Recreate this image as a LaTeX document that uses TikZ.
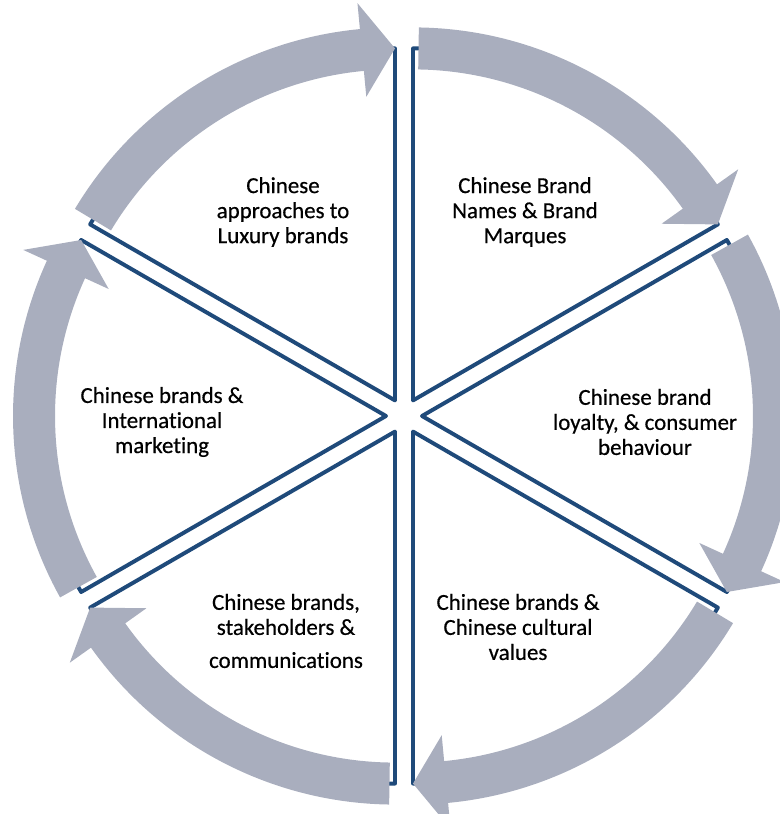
\documentclass[tikz,border=0pt]{standalone}
\usepackage{fontspec}
\setmainfont{Carlito}[FakeBold=0.5, Ligatures=NoCommon]
\usepackage{tikz}
\usetikzlibrary{positioning}
\definecolor{ringgrey}{HTML}{A9AEBE}
\definecolor{spoke}{HTML}{1F4A7A}
\tikzset{
    sector/.style={draw=spoke, line width=2.8pt, line join=round},
    cyclearrow/.style={fill=ringgrey, draw=none},
    topic/.style={align=center, inner sep=0pt, text=black, font=\fontsize{16.3pt}{17.8pt}\selectfont}
}
% ring radius, shaft and head radii (picture units = px)
\def\R{352}
\def\Ri{331}
\def\Ro{373}
\def\Hi{305}
\def\Ho{399}

\begin{document}
\begin{tikzpicture}[x=0.025cm, y=0.025cm]
\useasboundingbox (0,0) rectangle (780,814);

\begin{scope}[shift={(404,398)}]
% six slices, each pushed out along its bisector
\foreach \b in {120,60,0,-60,-120,180} {
    \begin{scope}[shift={(\b:18)}]
        \draw[sector] (0,0) -- (\b+30:\R) arc[start angle=\b+30, end angle=\b-30, radius=\R] -- cycle;
    \end{scope}
}
% curved arrows running clockwise over the slice rims
\foreach \b [evaluate=\b as \ts using \b+30-0.9,
             evaluate=\b as \te using \b-30,
             evaluate=\b as \tb using \b-30+5.4] in {120,60,0,-60,-120,180} {
    \begin{scope}[shift={(\b:18)}]
        \fill[cyclearrow] (\ts:\Ri) arc[start angle=\ts, end angle=\tb, radius=\Ri]
            -- (\tb:\Hi) -- (\te:\R) -- (\tb:\Ho) -- (\tb:\Ro)
            arc[start angle=\tb, end angle=\ts, radius=\Ro] -- cycle;
    \end{scope}
}
\end{scope}

\node[topic] (luxury) at (283,602) {Chinese\\approaches to\\Luxury brands};
\node[topic] (names) at (525,602) {Chinese Brand\\Names \& Brand\\Marques};
\node[topic] (loyalty) at (645,392) {Chinese brand\\loyalty, \& consumer\\behaviour};
\node[topic] (values) at (518,187) {Chinese brands \&\\Chinese cultural\\values};
\node[topic] (stake) at (286,183) {Chinese brands,\\stakeholders \&\\[5.7pt]communications};
\node[topic] (intl) at (162,392) {Chinese brands \&\\International\\marketing};

\end{tikzpicture}
\end{document}
